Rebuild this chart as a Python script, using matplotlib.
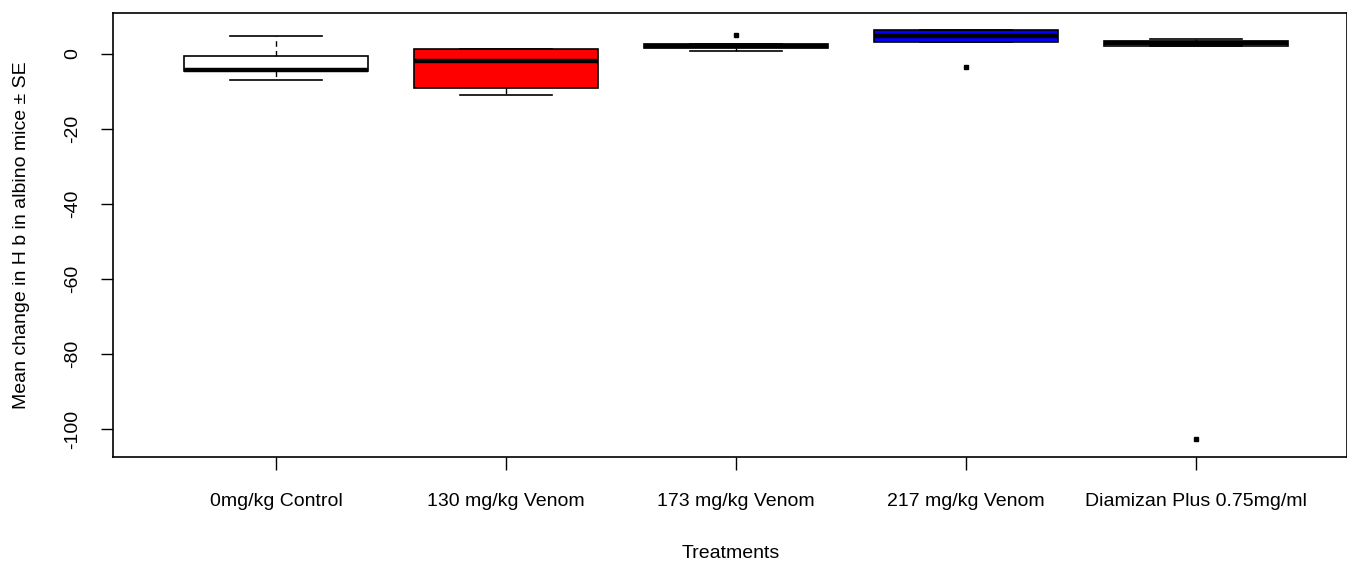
import matplotlib
matplotlib.use("Agg")
import matplotlib.pyplot as plt

plt.rcParams['font.family'] = ['Liberation Sans', 'DejaVu Sans']

# Data (box statistics)
categories = ["0mg/kg Control", "130 mg/kg Venom", "173 mg/kg Venom",
              "217 mg/kg Venom", "Diamizan Plus 0.75mg/ml"]
whisker_low = [-7.0, -10.9, 0.8, 3.3, 2.2]
q1_values = [-4.6, -9.0, 1.5, 3.3, 2.2]
medians = [-4.2, -1.9, 2.0, 4.9, 2.8]
q3_values = [-0.5, 1.3, 2.6, 6.5, 3.5]
whisker_high = [4.9, 1.3, 2.6, 6.5, 4.0]
outliers = [[], [], [5.1], [-3.6], [-102.7]]
box_colors = ["white", "#FF0000", "white", "#0000FF", "white"]
y_ticks = [0, -20, -40, -60, -80, -100]

stats = []
for i, name in enumerate(categories):
    stats.append(dict(label=name, whislo=whisker_low[i], q1=q1_values[i],
                      med=medians[i], q3=q3_values[i], whishi=whisker_high[i],
                      fliers=outliers[i]))

fig = plt.figure(figsize=(13.47, 5.63), dpi=100)
ax = fig.add_axes([113/1347, 1 - 457/563, 1 - 113/1347, (457 - 13)/563])

positions = list(range(1, len(categories) + 1))
bp = ax.bxp(stats, positions=positions, widths=0.8, patch_artist=True,
            showfliers=True,
            boxprops=dict(edgecolor='black', linewidth=1.2),
            medianprops=dict(color='black', linewidth=3.2, solid_capstyle='butt'),
            whiskerprops=dict(color='black', linewidth=1.0, linestyle=(0, (4, 3))),
            capprops=dict(color='black', linewidth=1.2),
            capwidths=0.4,
            flierprops=dict(marker='s', markersize=2.5, markerfacecolor='black',
                            markeredgecolor='black', linestyle='none'))
for patch, c in zip(bp['boxes'], box_colors):
    patch.set_facecolor(c)

ax.set_xlim(1 - 163/230, 1 - 163/230 + 1234/230)
ax.set_ylim(-107.47, 10.93)
ax.set_yticks(y_ticks)
ax.set_yticklabels([str(v) for v in y_ticks], rotation=90, va='center')
ax.set_xticks(positions)
ax.set_xticklabels(categories)

ax.tick_params(axis='both', direction='out', length=9, width=1.0, labelsize=14,
               colors='black')
ax.tick_params(axis='y', pad=14)
ax.tick_params(axis='x', pad=17)
for s in ax.spines.values():
    s.set_linewidth(1.2)
    s.set_color('black')

fig.text(731/1347, 1 - 553/563, "Treatments", ha='center', va='center', fontsize=14)
fig.text(22/1347, 1 - 235/563, "Mean change in H b in albino mice \u00b1 SE",
         ha='center', va='center', rotation=90, fontsize=14)

fig.savefig("out.png", dpi=100)
